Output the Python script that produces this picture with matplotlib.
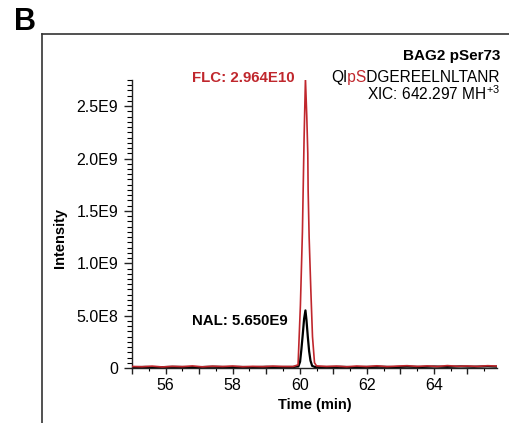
import matplotlib
matplotlib.use("Agg")
import matplotlib.pyplot as plt
from matplotlib.ticker import MultipleLocator, FuncFormatter
from matplotlib.lines import Line2D
from matplotlib.transforms import Bbox

plt.rcParams['font.family'] = ['Liberation Sans', 'DejaVu Sans']
plt.rcParams['mathtext.fontset'] = 'custom'
plt.rcParams['mathtext.rm'] = 'Liberation Sans'

# ----------------------------
# Data (intensity in units of 1E7)
# ----------------------------

red_time = [55.0, 55.3, 55.6, 55.9, 56.2, 56.5, 56.8, 57.1, 57.4, 57.7, 58.0, 58.3,
            58.6, 58.9, 59.2, 59.5, 59.8, 59.95, 60.02, 60.08, 60.13, 60.17, 60.21,
            60.24, 60.25, 60.28, 60.33, 60.38, 60.44, 60.5, 60.8, 61.1, 61.4, 61.7,
            62.0, 62.3, 62.6, 62.9, 63.2, 63.5, 63.8, 64.1, 64.4, 64.7, 65.0, 65.3,
            65.6, 65.88]
red_int = [1.5, 1.2, 1.8, 1.0, 1.6, 1.3, 2.0, 1.1, 1.7, 1.4, 1.9, 1.2,
           1.6, 1.3, 1.8, 1.5, 1.4, 3.0, 60, 130, 220, 276, 240,
           205, 170, 125, 75, 30, 5, 2.0, 1.5, 1.8, 1.2, 1.9,
           1.4, 2.1, 1.3, 1.8, 2.2, 1.5, 2.0, 1.4, 2.3, 1.6, 1.9, 1.5,
           2.2, 1.8]

black_time = [55.0, 55.4, 55.8, 56.2, 56.6, 57.0, 57.4, 57.8, 58.2, 58.6, 59.0,
              59.4, 59.8, 59.96, 60.01, 60.05, 60.09, 60.13, 60.17, 60.2, 60.24,
              60.28, 60.32, 60.37, 60.45, 60.8, 61.2, 61.6, 62.0, 62.4, 62.8,
              63.2, 63.6, 64.0, 64.4, 64.8, 65.2, 65.6, 65.88]
black_int = [0.8, 1.0, 0.7, 1.1, 0.9, 0.8, 1.2, 0.9, 1.0, 0.8, 1.1,
             0.9, 1.0, 1.5, 6, 18, 32, 47, 55, 46, 30,
             16, 7, 2, 1.0, 0.9, 1.1, 0.8, 1.0, 1.2, 0.9,
             1.3, 1.0, 1.4, 1.1, 1.5, 1.2, 1.6, 1.3]

y_ticks = [0, 5e8, 1.0e9, 1.5e9, 2.0e9, 2.5e9]
y_tick_labels = ["0", "5.0E8", "1.0E9", "1.5E9", "2.0E9", "2.5E9"]

# peptide sequence, phosphosite coloured
seq_full = "QIpSDGEREELNLTANR"
seq_site = "pS"
seq_after = "DGEREELNLTANR"

red = '#c0272d'

# ----------------------------
# Figure
# ----------------------------

fig = plt.figure(figsize=(5.09, 4.23), dpi=100)
W, H = 509.0, 423.0
ax = fig.add_axes([132 / W, (H - 368) / H, (497 - 132) / W, (368 - 80) / H])

ax.plot(black_time, [v * 1e7 for v in black_int], color='black', lw=1.6, zorder=2)
ax.plot(red_time, [v * 1e7 for v in red_int], color=red, lw=1.2, zorder=3)

ax.set_xlim(55, 65.88)
ax.set_ylim(0, 2.75e9)

for s in ['top', 'right']:
    ax.spines[s].set_visible(False)
for s in ['left', 'bottom']:
    ax.spines[s].set_linewidth(1.0)
    ax.spines[s].set_color('#222222')

ax.set_yticks(y_ticks)
ax.set_yticklabels(y_tick_labels)
ax.yaxis.set_minor_locator(MultipleLocator(5e7))
ax.xaxis.set_major_locator(MultipleLocator(1))
ax.xaxis.set_minor_locator(MultipleLocator(0.5))
ax.xaxis.set_major_formatter(FuncFormatter(lambda v, p: "%d" % v if int(round(v)) % 2 == 0 else ""))

ax.tick_params(axis='both', which='major', labelsize=11.5, color='#222222', width=1.0)
ax.tick_params(axis='y', which='major', length=6, pad=4)
ax.tick_params(axis='y', which='minor', length=3.5, width=0.8)
ax.tick_params(axis='x', which='major', length=4.5, pad=3)
ax.tick_params(axis='x', which='minor', length=2.5, width=0.8)

ax.set_xlabel("Time (min)", fontsize=10.5, fontweight='bold', labelpad=3)
fig.text(60 / W, 1 - 238 / H, "Intensity", rotation=90, fontsize=10.5,
         fontweight='bold', ha='center', va='center')

# annotations
fig.text(295 / W, 1 - 78 / H, "FLC: 2.964E10", color=red, fontsize=10.8,
         fontweight='bold', ha='right', va='center')
fig.text(288 / W, 1 - 321 / H, "NAL: 5.650E9", color='black', fontsize=10.8,
         fontweight='bold', ha='right', va='center')

fig.text(500 / W, 1 - 56 / H, "BAG2 pSer73", fontsize=11, fontweight='bold',
         ha='right', va='center')
fig.text(500 / W, 1 - 100 / H, r"XIC: 642.297 MH$^{+3}$", fontsize=11.2,
         ha='right', va='baseline')

# sequence line: full string drawn in black and red, each clipped to its part
renderer = fig.canvas.get_renderer()


def text_width(s):
    tmp = fig.text(0, 0, s, fontsize=11.2)
    w = tmp.get_window_extent(renderer=renderer).width
    tmp.remove()
    return w


x_d = 500.0 - text_width(seq_after)
x_p = 500.0 - text_width(seq_site + seq_after)
y_seq = 1 - 82 / H
clips = [(0, x_p - 0.5, 'black'), (x_p - 0.5, x_d - 0.5, red), (x_d - 0.5, W, 'black')]
for x0, x1, col in clips:
    t = fig.text(500 / W, y_seq, seq_full, fontsize=11.2, color=col,
                 ha='right', va='baseline')
    t.set_clip_box(Bbox([[x0, 0], [x1, H]]))
    t.set_clip_on(True)

# panel frame and label
fig.add_artist(Line2D([42 / W, 42 / W], [0, 1 - 34 / H], color='#333333', lw=1.2))
fig.add_artist(Line2D([42 / W, 1], [1 - 34 / H, 1 - 34 / H], color='#333333', lw=1.2))
fig.text(14 / W, 1 - 30 / H, "B", fontsize=22, fontweight='bold', ha='left', va='baseline')

fig.savefig("out.png", dpi=100)
